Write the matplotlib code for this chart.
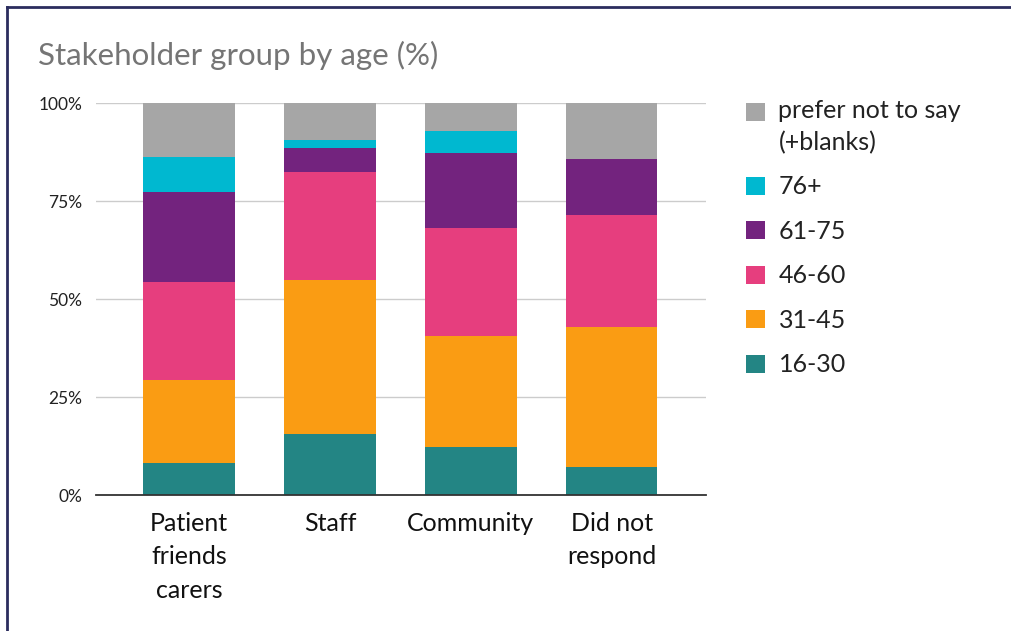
import numpy as np
import matplotlib.pyplot as plt
from matplotlib.lines import Line2D
from matplotlib.patches import Patch, Rectangle
from matplotlib.legend_handler import HandlerPatch

plt.rcParams['font.family'] = ['Lato', 'DejaVu Sans']

groups = ["Patient\nfriends\ncarers", "Staff", "Community", "Did not\nrespond"]
ages = ["16-30", "31-45", "46-60", "61-75", "76+", "prefer not to say\n(+blanks)"]
colors = ["#238584", "#fa9c13", "#e63e7e", "#73237e", "#00b8d0", "#a6a6a6"]

# percentage per age band, one list per band, ordered like groups
age_16_30 = [8.2, 15.6, 12.2, 7.1]
age_31_45 = [21.2, 39.2, 28.3, 35.7]
age_46_60 = [25.0, 27.6, 27.6, 28.6]
age_61_75 = [23.0, 6.1, 19.1, 14.3]
age_76_plus = [8.7, 2.1, 5.6, 0.0]
prefer_not = [13.9, 9.4, 7.2, 14.3]

series = [age_16_30, age_31_45, age_46_60, age_61_75, age_76_plus, prefer_not]

fig = plt.figure(figsize=(10.12, 6.31), dpi=100)
ax = fig.add_axes([96/1012, 1-495/631, 610/1012, 392/631])

x = np.arange(len(groups))
bottom = np.zeros(len(groups))
for vals, c in zip(series, colors):
    vals = np.array(vals)
    ax.bar(x, vals, bottom=bottom, width=0.65, color=c, linewidth=0, zorder=3)
    bottom += vals

ax.set_xlim(-0.66, 3.67)
ax.set_ylim(0, 100)
ax.set_yticks([0, 25, 50, 75, 100])
ax.set_yticklabels(["0%", "25%", "50%", "75%", "100%"], fontsize=12.5, color="#222222")
ax.set_xticks(x)
ax.set_xticklabels(groups, fontsize=18, color="#111111", linespacing=1.55)
ax.tick_params(axis='both', length=0)
ax.tick_params(axis='x', pad=12)
ax.tick_params(axis='y', pad=10)
ax.grid(axis='y', color="#cccccc", linewidth=1, zorder=0)
for s in ["top", "right", "left"]:
    ax.spines[s].set_visible(False)
ax.spines["bottom"].set_color("#333333")
ax.spines["bottom"].set_linewidth(1.3)
ax.spines["bottom"].set_zorder(4)

fig.text(38/1012, 1-55/631, "Stakeholder group by age (%)", fontsize=22.5,
         color="#757575", va="center", ha="left")


# legend swatch lifted up to sit beside the first line of a two-line label
def top_swatch(legend, orig_handle, xdescent, ydescent, width, height, fontsize):
    return Rectangle((-xdescent, -ydescent + 0.62 * fontsize), width, height)


handles = [Patch(facecolor=c, edgecolor='none') for c in colors[::-1]]
leg = fig.legend(handles, ages[::-1], loc="upper left",
                 bbox_to_anchor=(736/1012, 1-89/631), frameon=False,
                 fontsize=18, handlelength=0.75, handleheight=0.75,
                 handletextpad=0.55, labelspacing=0.86, borderaxespad=0,
                 handler_map={handles[0]: HandlerPatch(patch_func=top_swatch)})
for t in leg.get_texts():
    t.set_color("#222222")
    t.set_linespacing(1.45)

# frame lines along the top and left edge
fig.add_artist(Line2D([7/1012, 1], [1-7/631, 1-7/631], color="#2b2d5e", linewidth=2))
fig.add_artist(Line2D([7/1012, 7/1012], [0, 1-7/631], color="#2b2d5e", linewidth=2))

fig.savefig("out.png", dpi=100, facecolor="white")
